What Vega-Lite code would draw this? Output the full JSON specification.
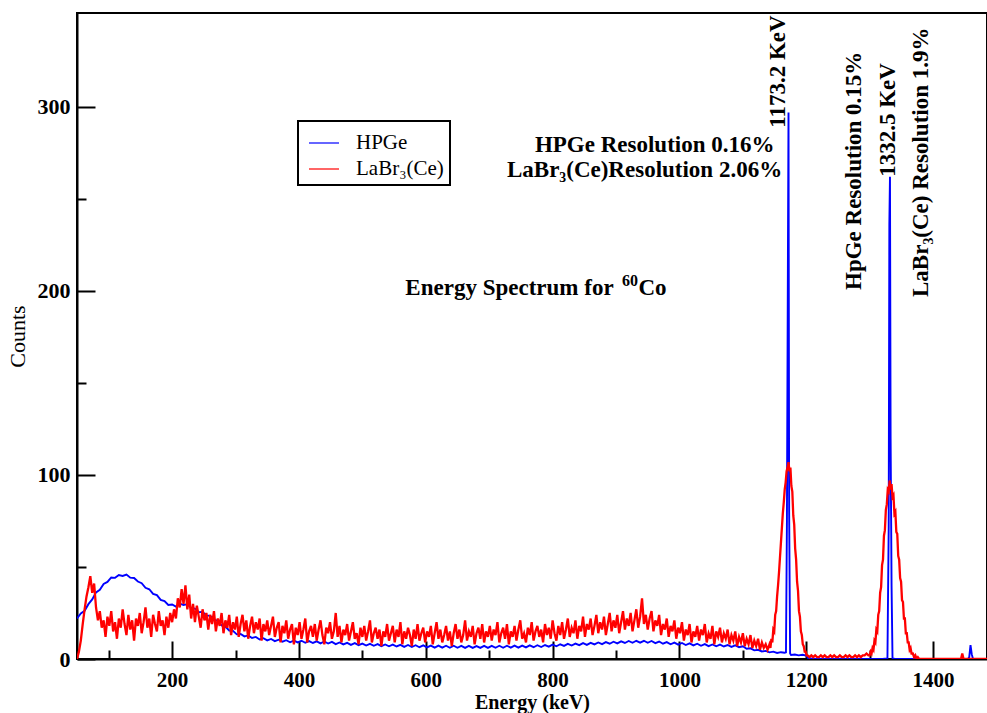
{
"$schema": "https://vega.github.io/schema/vega-lite/v6.json",
"width": 910, "height": 646,
"autosize": {"type": "none"},
"padding": {"left": 77, "top": 13, "right": 0, "bottom": 54},
"background": "white",
"config": {
 "view": {"stroke": "black", "strokeWidth": 2},
 "font": "Liberation Serif",
 "axis": {"domainColor": "black", "domainWidth": 2, "tickColor": "black", "tickWidth": 2, "labelColor": "black", "titleColor": "black", "labelFont": "Liberation Serif", "titleFont": "Liberation Serif", "grid": false, "zindex": 1},
 "legend": {"strokeWidth": 2}
},
"layer": [
{
 "data": {"values": [
{"e":50,"c":22.0},{"e":56,"c":24.8},{"e":62,"c":26.2},{"e":68,"c":29.8},{"e":74,"c":32.4},{"e":80,"c":36.2},{"e":86,"c":37.6},{"e":92,"c":40.8},{"e":98,"c":41.9},{"e":104,"c":44.3},{"e":110,"c":44.1},{"e":116,"c":45.6},{"e":122,"c":45.1},{"e":128,"c":45.9},{"e":134,"c":44.2},{"e":140,"c":44.0},{"e":146,"c":42.1},{"e":152,"c":41.2},{"e":158,"c":38.7},{"e":164,"c":37.9},{"e":170,"c":35.4},{"e":176,"c":34.7},{"e":182,"c":32.1},{"e":188,"c":31.5},{"e":194,"c":29.4},{"e":200,"c":29.6},{"e":206,"c":28.5},{"e":212,"c":30.1},{"e":218,"c":29.3},{"e":224,"c":29.8},{"e":230,"c":27.6},{"e":236,"c":27.4},{"e":242,"c":25.4},{"e":248,"c":25.6},{"e":254,"c":23.7},{"e":260,"c":23.4},{"e":266,"c":21.2},{"e":272,"c":20.9},{"e":278,"c":18.3},{"e":284,"c":17.6},{"e":290,"c":15.5},{"e":296,"c":15.3},{"e":302,"c":13.4},{"e":308,"c":13.6},{"e":314,"c":12.3},{"e":320,"c":12.8},{"e":326,"c":11.4},{"e":332,"c":12.0},{"e":338,"c":10.6},{"e":344,"c":11.3},{"e":350,"c":10.1},{"e":356,"c":10.9},{"e":362,"c":9.7},{"e":368,"c":10.5},{"e":374,"c":9.4},{"e":380,"c":10.2},{"e":386,"c":9.1},{"e":392,"c":10.0},{"e":398,"c":9.0},{"e":404,"c":9.9},{"e":410,"c":8.8},{"e":416,"c":9.7},{"e":422,"c":8.7},{"e":428,"c":9.6},{"e":434,"c":8.5},{"e":440,"c":9.5},{"e":446,"c":8.4},{"e":452,"c":9.3},{"e":458,"c":8.1},{"e":464,"c":9.0},{"e":470,"c":7.9},{"e":476,"c":8.8},{"e":482,"c":7.7},{"e":488,"c":8.6},{"e":494,"c":7.5},{"e":500,"c":8.4},{"e":506,"c":7.3},{"e":512,"c":8.2},{"e":518,"c":7.2},{"e":524,"c":8.1},{"e":530,"c":7.0},{"e":536,"c":7.9},{"e":542,"c":6.9},{"e":548,"c":7.8},{"e":554,"c":6.8},{"e":560,"c":7.7},{"e":566,"c":6.6},{"e":572,"c":7.6},{"e":578,"c":6.5},{"e":584,"c":7.5},{"e":590,"c":6.4},{"e":596,"c":7.4},{"e":602,"c":6.3},{"e":608,"c":7.3},{"e":614,"c":6.2},{"e":620,"c":7.3},{"e":626,"c":6.2},{"e":632,"c":7.2},{"e":638,"c":6.1},{"e":644,"c":7.2},{"e":650,"c":6.1},{"e":656,"c":7.1},{"e":662,"c":6.0},{"e":668,"c":7.1},{"e":674,"c":6.0},{"e":680,"c":7.0},{"e":686,"c":6.0},{"e":692,"c":7.1},{"e":698,"c":6.0},{"e":704,"c":7.1},{"e":710,"c":6.1},{"e":716,"c":7.2},{"e":722,"c":6.1},{"e":728,"c":7.2},{"e":734,"c":6.2},{"e":740,"c":7.3},{"e":746,"c":6.2},{"e":752,"c":7.3},{"e":758,"c":6.3},{"e":764,"c":7.4},{"e":770,"c":6.4},{"e":776,"c":7.5},{"e":782,"c":6.5},{"e":788,"c":7.6},{"e":794,"c":6.7},{"e":800,"c":7.8},{"e":806,"c":6.9},{"e":812,"c":8.0},{"e":818,"c":7.1},{"e":824,"c":8.2},{"e":830,"c":7.3},{"e":836,"c":8.4},{"e":842,"c":7.5},{"e":848,"c":8.6},{"e":854,"c":7.7},{"e":860,"c":8.8},{"e":866,"c":7.9},{"e":872,"c":9.0},{"e":878,"c":8.1},{"e":884,"c":9.2},{"e":890,"c":8.3},{"e":896,"c":9.4},{"e":902,"c":8.5},{"e":908,"c":9.6},{"e":914,"c":8.7},{"e":920,"c":9.8},{"e":926,"c":8.8},{"e":932,"c":9.9},{"e":938,"c":8.9},{"e":944,"c":9.9},{"e":950,"c":8.8},{"e":956,"c":9.8},{"e":962,"c":8.6},{"e":968,"c":9.5},{"e":974,"c":8.3},{"e":980,"c":9.2},{"e":986,"c":8.0},{"e":992,"c":8.9},{"e":998,"c":7.8},{"e":1004,"c":8.7},{"e":1010,"c":7.6},{"e":1016,"c":8.5},{"e":1022,"c":7.4},{"e":1028,"c":8.3},{"e":1034,"c":7.2},{"e":1040,"c":8.1},{"e":1046,"c":7.0},{"e":1052,"c":7.9},{"e":1058,"c":6.9},{"e":1064,"c":7.8},{"e":1070,"c":6.8},{"e":1076,"c":7.6},{"e":1082,"c":6.6},{"e":1088,"c":7.4},{"e":1094,"c":6.4},{"e":1100,"c":6.9},{"e":1106,"c":5.6},{"e":1112,"c":5.8},{"e":1118,"c":4.7},{"e":1124,"c":5.0},{"e":1130,"c":4.1},{"e":1136,"c":4.4},{"e":1142,"c":3.6},{"e":1148,"c":4.0},{"e":1154,"c":3.3},{"e":1160,"c":3.7},{"e":1166,"c":3.4},{"e":1168,"c":3.6},{"e":1169.5,"c":75},{"e":1171,"c":212},{"e":1172,"c":297},{"e":1173,"c":80},{"e":1174.5,"c":3.0},{"e":1176,"c":2.2},{"e":1182,"c":2.4},{"e":1188,"c":2.0},{"e":1194,"c":2.3},{"e":1200,"c":1.9},{"e":1203,"c":0.4},{"e":1210,"c":0.2},{"e":1230,"c":0},{"e":1260,"c":0},{"e":1290,"c":0},{"e":1320,"c":0},{"e":1328,"c":0.3},{"e":1330,"c":72},{"e":1331,"c":236},{"e":1332,"c":262},{"e":1333,"c":120},{"e":1334.5,"c":40},{"e":1336,"c":0.3},{"e":1340,"c":0},{"e":1380,"c":0},{"e":1420,"c":0},{"e":1455,"c":0},{"e":1457,"c":1},{"e":1459,"c":7.5},{"e":1461,"c":2.5},{"e":1463,"c":0},{"e":1485,"c":0}
 ]},
 "mark": {"type": "line", "strokeWidth": 1.9, "clip": true},
 "encoding": {
  "x": {"field": "e", "type": "quantitative", "scale": {"domain": [50, 1485], "nice": false, "zero": false},
        "axis": {"orient": "bottom", "values": [200,400,600,800,1000,1200,1400], "format": "d", "ticks": false, "labelPadding": 10, "labelFontSize": 21, "labelFontWeight": "bold", "labelFlush": false, "title": "Energy (keV)", "titleFontSize": 20, "titleFontWeight": "bold", "titlePadding": 2}},
  "y": {"field": "c", "type": "quantitative", "scale": {"domain": [0, 351], "nice": false},
        "axis": {"orient": "left", "values": [0,100,200,300], "ticks": false, "labelPadding": 7, "labelFontSize": 22, "labelFontWeight": "bold", "title": "Counts", "titleFontSize": 22, "titleFontWeight": "normal", "titlePadding": 8}},
  "color": {"datum": "HPGe", "type": "nominal", "scale": {"domain": ["HPGe", "LaBr₃(Ce)"], "range": ["#0000ff", "#ff0000"]},
        "legend": {"orient": "none", "legendX": 221, "legendY": 108, "title": null, "strokeColor": "black", "fillColor": "white", "padding": 6, "symbolOffset": 4, "symbolType": "stroke", "symbolSize": 900, "symbolStrokeWidth": 1.2, "labelFont": "Liberation Serif", "labelFontSize": 21, "labelColor": "black", "labelOffset": 16, "rowPadding": -1}}
 }
},
{
 "data": {"values": [
{"e":50,"c":0},{"e":53,"c":4},{"e":56,"c":10},{"e":59,"c":19},{"e":62,"c":27},{"e":65,"c":34},{"e":68,"c":39},{"e":71,"c":45},{"e":74,"c":36},{"e":77,"c":41},{"e":80,"c":28},
{"e":83,"c":21},{"e":86,"c":26},{"e":89,"c":17},{"e":92,"c":21},{"e":95,"c":12},{"e":98,"c":23},{"e":101,"c":18},{"e":104,"c":26},{"e":107,"c":15},{"e":110,"c":20},{"e":113,"c":11},{"e":116,"c":22},{"e":119,"c":17},{"e":122,"c":27},{"e":125,"c":19},{"e":128,"c":13},{"e":131,"c":24},{"e":134,"c":16},{"e":137,"c":21},{"e":140,"c":10},{"e":143,"c":22},{"e":146,"c":18},{"e":149,"c":25},{"e":152,"c":14},{"e":155,"c":20},{"e":158,"c":28},{"e":161,"c":17},{"e":164,"c":22},{"e":167,"c":12},{"e":170,"c":24},{"e":173,"c":19},{"e":176,"c":15},{"e":179,"c":26},{"e":182,"c":18},{"e":185,"c":21},{"e":188,"c":13},{"e":191,"c":23},{"e":194,"c":17},{"e":197,"c":25},
{"e":200,"c":20},{"e":203,"c":27},{"e":206,"c":22},{"e":209,"c":33},{"e":212,"c":28},{"e":215,"c":38},{"e":218,"c":30},{"e":221,"c":40},{"e":224,"c":27},{"e":227,"c":35},{"e":230,"c":22},{"e":233,"c":30},{"e":236,"c":20},{"e":239,"c":29},{"e":242,"c":23},{"e":245,"c":17},{"e":248,"c":27},{"e":251,"c":21},{"e":254,"c":25},{"e":257,"c":16},{"e":260,"c":24},{"e":263,"c":19},{"e":266,"c":26},{"e":269,"c":15},{"e":272,"c":22},{"e":275,"c":18},{"e":278,"c":25},{"e":281,"c":14},{"e":284,"c":21},{"e":287,"c":17},{"e":290,"c":24},{"e":293,"c":13},{"e":296,"c":20},{"e":299,"c":16},
{"e":302,"c":23},{"e":305,"c":12},{"e":308,"c":19},{"e":311,"c":24},{"e":314,"c":15},{"e":317,"c":21},{"e":320,"c":11},{"e":323,"c":18},{"e":326,"c":23},{"e":329,"c":14},{"e":332,"c":20},{"e":335,"c":16},{"e":338,"c":22},{"e":341,"c":10},{"e":344,"c":19},{"e":347,"c":15},{"e":350,"c":21},{"e":353,"c":13},{"e":356,"c":18},{"e":359,"c":23},{"e":362,"c":12},{"e":365,"c":17},{"e":368,"c":20},{"e":371,"c":9},{"e":374,"c":18},{"e":377,"c":14},{"e":380,"c":21},{"e":383,"c":11},{"e":386,"c":16},{"e":389,"c":19},{"e":392,"c":8},{"e":395,"c":17},{"e":398,"c":13},
{"e":401,"c":20},{"e":404,"c":11},{"e":407,"c":16},{"e":410,"c":22},{"e":413,"c":9},{"e":416,"c":15},{"e":419,"c":18},{"e":422,"c":12},{"e":425,"c":19},{"e":428,"c":10},{"e":431,"c":16},{"e":434,"c":21},{"e":437,"c":13},{"e":440,"c":8},{"e":443,"c":17},{"e":446,"c":14},{"e":449,"c":20},{"e":452,"c":11},{"e":455,"c":15},{"e":458,"c":25},{"e":461,"c":12},{"e":464,"c":18},{"e":467,"c":9},{"e":470,"c":16},{"e":473,"c":13},{"e":476,"c":19},{"e":479,"c":10},{"e":482,"c":15},{"e":485,"c":20},{"e":488,"c":11},{"e":491,"c":14},{"e":494,"c":8},{"e":497,"c":17},
{"e":500,"c":12},{"e":503,"c":18},{"e":506,"c":10},{"e":509,"c":15},{"e":512,"c":21},{"e":515,"c":9},{"e":518,"c":14},{"e":521,"c":17},{"e":524,"c":11},{"e":527,"c":16},{"e":530,"c":7},{"e":533,"c":15},{"e":536,"c":12},{"e":539,"c":19},{"e":542,"c":10},{"e":545,"c":14},{"e":548,"c":18},{"e":551,"c":9},{"e":554,"c":16},{"e":557,"c":12},{"e":560,"c":20},{"e":563,"c":8},{"e":566,"c":15},{"e":569,"c":11},{"e":572,"c":17},{"e":575,"c":13},{"e":578,"c":7},{"e":581,"c":16},{"e":584,"c":11},{"e":587,"c":19},{"e":590,"c":10},{"e":593,"c":14},{"e":596,"c":17},{"e":599,"c":9},
{"e":602,"c":15},{"e":605,"c":12},{"e":608,"c":18},{"e":611,"c":8},{"e":614,"c":14},{"e":617,"c":20},{"e":620,"c":11},{"e":623,"c":16},{"e":626,"c":9},{"e":629,"c":13},{"e":632,"c":18},{"e":635,"c":10},{"e":638,"c":15},{"e":641,"c":7},{"e":644,"c":14},{"e":647,"c":19},{"e":650,"c":11},{"e":653,"c":16},{"e":656,"c":9},{"e":659,"c":13},{"e":662,"c":21},{"e":665,"c":10},{"e":668,"c":15},{"e":671,"c":12},{"e":674,"c":18},{"e":677,"c":8},{"e":680,"c":14},{"e":683,"c":17},{"e":686,"c":11},{"e":689,"c":19},{"e":692,"c":9},{"e":695,"c":15},{"e":698,"c":12},
{"e":701,"c":18},{"e":704,"c":10},{"e":707,"c":16},{"e":710,"c":13},{"e":713,"c":20},{"e":716,"c":9},{"e":719,"c":14},{"e":722,"c":17},{"e":725,"c":11},{"e":728,"c":19},{"e":731,"c":8},{"e":734,"c":15},{"e":737,"c":12},{"e":740,"c":18},{"e":743,"c":10},{"e":746,"c":16},{"e":749,"c":21},{"e":752,"c":11},{"e":755,"c":14},{"e":758,"c":9},{"e":761,"c":17},{"e":764,"c":13},{"e":767,"c":20},{"e":770,"c":10},{"e":773,"c":15},{"e":776,"c":18},{"e":779,"c":12},{"e":782,"c":16},{"e":785,"c":9},{"e":788,"c":19},{"e":791,"c":13},{"e":794,"c":17},{"e":797,"c":11},
{"e":800,"c":21},{"e":803,"c":14},{"e":806,"c":10},{"e":809,"c":18},{"e":812,"c":13},{"e":815,"c":20},{"e":818,"c":11},{"e":821,"c":16},{"e":824,"c":22},{"e":827,"c":12},{"e":830,"c":17},{"e":833,"c":14},{"e":836,"c":21},{"e":839,"c":11},{"e":842,"c":18},{"e":845,"c":15},{"e":848,"c":23},{"e":851,"c":12},{"e":854,"c":19},{"e":857,"c":16},{"e":860,"c":22},{"e":863,"c":13},{"e":866,"c":18},{"e":869,"c":24},{"e":872,"c":14},{"e":875,"c":20},{"e":878,"c":16},{"e":881,"c":23},{"e":884,"c":13},{"e":887,"c":19},{"e":890,"c":25},{"e":893,"c":15},{"e":896,"c":21},{"e":899,"c":17},
{"e":902,"c":24},{"e":905,"c":14},{"e":908,"c":20},{"e":911,"c":26},{"e":914,"c":16},{"e":917,"c":22},{"e":920,"c":18},{"e":923,"c":25},{"e":926,"c":15},{"e":929,"c":21},{"e":932,"c":27},{"e":935,"c":17},{"e":938,"c":23},{"e":941,"c":33},{"e":944,"c":19},{"e":947,"c":24},{"e":950,"c":16},{"e":953,"c":22},{"e":956,"c":26},{"e":959,"c":15},{"e":962,"c":21},{"e":965,"c":18},{"e":968,"c":24},{"e":971,"c":13},{"e":974,"c":19},{"e":977,"c":16},{"e":980,"c":22},{"e":983,"c":12},{"e":986,"c":18},{"e":989,"c":15},{"e":992,"c":21},{"e":995,"c":11},{"e":998,"c":17},
{"e":1001,"c":14},{"e":1004,"c":20},{"e":1007,"c":10},{"e":1010,"c":16},{"e":1013,"c":13},{"e":1016,"c":19},{"e":1019,"c":9},{"e":1022,"c":15},{"e":1025,"c":12},{"e":1028,"c":18},{"e":1031,"c":10},{"e":1034,"c":16},{"e":1037,"c":13},{"e":1040,"c":19},{"e":1043,"c":9},{"e":1046,"c":14},{"e":1049,"c":11},{"e":1052,"c":18},{"e":1055,"c":8},{"e":1058,"c":15},{"e":1061,"c":12},{"e":1064,"c":17},{"e":1067,"c":9},{"e":1070,"c":14},{"e":1073,"c":11},{"e":1076,"c":16},{"e":1079,"c":8},{"e":1082,"c":13},{"e":1085,"c":10},{"e":1088,"c":15},{"e":1091,"c":7},{"e":1094,"c":12},{"e":1097,"c":9},
{"e":1100,"c":14},{"e":1103,"c":7},{"e":1106,"c":11},{"e":1109,"c":8},{"e":1112,"c":13},{"e":1115,"c":6},{"e":1118,"c":10},{"e":1121,"c":7},{"e":1124,"c":11},{"e":1127,"c":5},{"e":1130,"c":9},{"e":1133,"c":6},{"e":1136,"c":8},{"e":1139,"c":5},{"e":1142,"c":8},
{"e":1143.5,"c":6},{"e":1145,"c":11},{"e":1146.5,"c":9},{"e":1148,"c":16},{"e":1149.5,"c":15},{"e":1151,"c":24},{"e":1152.5,"c":26},{"e":1154,"c":34},{"e":1155.5,"c":40},{"e":1157,"c":47},{"e":1158.5,"c":55},{"e":1160,"c":63},{"e":1161.5,"c":71},{"e":1163,"c":79},{"e":1164.5,"c":85},{"e":1166,"c":92},{"e":1167.5,"c":96},{"e":1169,"c":102},{"e":1170.5,"c":104},{"e":1172,"c":107},{"e":1173.5,"c":102},{"e":1175,"c":104},{"e":1176.5,"c":94},{"e":1178,"c":91},{"e":1179.5,"c":78},{"e":1181,"c":73},{"e":1182.5,"c":60},{"e":1184,"c":54},{"e":1185.5,"c":42},{"e":1187,"c":37},{"e":1188.5,"c":26},{"e":1190,"c":23},{"e":1191.5,"c":15},{"e":1193,"c":13},{"e":1194.5,"c":8},{"e":1196,"c":7},{"e":1197.5,"c":4},{"e":1199,"c":4},{"e":1200.5,"c":2},{"e":1202,"c":2},
{"e":1205,"c":1},{"e":1208,"c":2},{"e":1211,"c":1},{"e":1214,"c":2},{"e":1217,"c":1},{"e":1220,"c":1},{"e":1223,"c":2},{"e":1226,"c":1},{"e":1229,"c":2},{"e":1232,"c":1},{"e":1235,"c":1},{"e":1238,"c":2},{"e":1241,"c":1},{"e":1244,"c":2},{"e":1247,"c":1},{"e":1250,"c":1},{"e":1253,"c":2},{"e":1256,"c":1},{"e":1259,"c":1},{"e":1262,"c":2},{"e":1265,"c":1},{"e":1268,"c":2},{"e":1271,"c":1},{"e":1274,"c":1},{"e":1277,"c":2},{"e":1280,"c":1},{"e":1283,"c":2},{"e":1286,"c":1},{"e":1289,"c":2},{"e":1292,"c":2},{"e":1295,"c":3},{"e":1298,"c":2},
{"e":1300,"c":2},{"e":1301.5,"c":4},{"e":1303,"c":3},{"e":1304.5,"c":6},{"e":1306,"c":5},{"e":1307.5,"c":10},{"e":1309,"c":9},{"e":1310.5,"c":16},{"e":1312,"c":15},{"e":1313.5,"c":24},{"e":1315,"c":26},{"e":1316.5,"c":36},{"e":1318,"c":39},{"e":1319.5,"c":51},{"e":1321,"c":54},{"e":1322.5,"c":67},{"e":1324,"c":70},{"e":1325.5,"c":81},{"e":1327,"c":84},{"e":1328.5,"c":92},{"e":1330,"c":91},{"e":1331.5,"c":97},{"e":1333,"c":92},{"e":1334.5,"c":95},{"e":1336,"c":88},{"e":1337.5,"c":89},{"e":1339,"c":79},{"e":1340.5,"c":80},{"e":1342,"c":69},{"e":1343.5,"c":68},{"e":1345,"c":56},{"e":1346.5,"c":54},{"e":1348,"c":44},{"e":1349.5,"c":42},{"e":1351,"c":32},{"e":1352.5,"c":31},{"e":1354,"c":22},{"e":1355.5,"c":22},{"e":1357,"c":14},{"e":1358.5,"c":14},{"e":1360,"c":9},{"e":1361.5,"c":9},{"e":1363,"c":5},{"e":1364.5,"c":6},{"e":1366,"c":3},{"e":1368,"c":3},{"e":1370,"c":1},{"e":1372,"c":2},{"e":1374,"c":0},{"e":1376,"c":1},{"e":1378,"c":0},
{"e":1390,"c":0},{"e":1410,"c":0},{"e":1440,"c":0},{"e":1444,"c":0},{"e":1446,"c":3},{"e":1448,"c":0},{"e":1470,"c":0},{"e":1485,"c":0}
 ]},
 "mark": {"type": "line", "strokeWidth": 2.3, "clip": true},
 "encoding": {
  "x": {"field": "e", "type": "quantitative", "axis": null},
  "y": {"field": "c", "type": "quantitative", "axis": null},
  "color": {"datum": "LaBr₃(Ce)", "type": "nominal"}
 }
},
{
 "data": {"values": [
  {"e": 961, "c": 275.5, "t": "HPGe Resolution 0.16%", "s": 23},
  {"e": 945, "c": 262, "t": "LaBr₃(Ce)Resolution 2.06%", "s": 23},
  {"e": 732, "c": 197.8, "t": "Energy Spectrum for", "s": 23},
  {"e": 922, "c": 202.6, "t": "60", "s": 16},
  {"e": 957.5, "c": 197.8, "t": "Co", "s": 23}
 ]},
 "mark": {"type": "text", "font": "Liberation Serif", "fontWeight": "bold", "color": "black", "align": "center", "baseline": "alphabetic"},
 "encoding": {
  "x": {"field": "e", "type": "quantitative", "axis": {"orient": "bottom", "values": [200,400,600,800,1000,1200,1400], "labels": false, "domain": false, "title": null, "tickSize": -18}},
  "y": {"field": "c", "type": "quantitative", "axis": {"orient": "left", "values": [0,100,200,300], "labels": false, "domain": false, "title": null, "tickSize": -18}},
  "text": {"field": "t"},
  "size": {"field": "s", "type": "quantitative", "scale": null}
 }
},
{
 "data": {"values": [
  {"e": 1154.7, "c": 288.6, "t": "1173.2 KeV"},
  {"e": 1276, "c": 200.5, "t": "HpGe Resolution 0.15%"},
  {"e": 1329.6, "c": 262, "t": "1332.5 KeV"},
  {"e": 1381.6, "c": 196.7, "t": "LaBr₃(Ce) Resolution 1.9%"}
 ]},
 "mark": {"type": "text", "font": "Liberation Serif", "fontWeight": "bold", "fontSize": 23, "color": "black", "align": "left", "baseline": "middle", "angle": 270},
 "encoding": {
  "x": {"field": "e", "type": "quantitative", "axis": {"orient": "bottom", "values": [100,300,500,700,900,1100,1300], "labels": false, "domain": false, "title": null, "tickSize": -9}},
  "y": {"field": "c", "type": "quantitative", "axis": {"orient": "left", "values": [50,150,250], "labels": false, "domain": false, "title": null, "tickSize": -9}},
  "text": {"field": "t"}
 }
}
],
"resolve": {"axis": {"x": "independent", "y": "independent"}}
}
